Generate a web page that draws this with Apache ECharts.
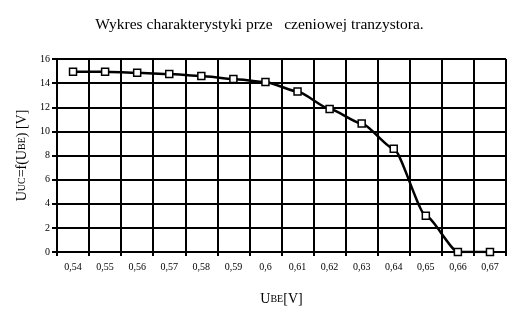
<!DOCTYPE html>
<html><head><meta charset="utf-8">
<script src="https://cdn.jsdelivr.net/npm/echarts@6/dist/echarts.min.js"></script>
<style>html,body{margin:0;padding:0;background:#fff}#c{width:519px;height:321px}</style>
</head><body><div id="c"></div>
<script>
const categories = ['0,54','0,55','0,56','0,57','0,58','0,59','0,6','0,61','0,62','0,63','0,64','0,65','0,66','0,67'];
const uuc = [14.95,14.95,14.85,14.75,14.6,14.35,14.1,13.3,11.85,10.65,8.55,3.0,0,0];
const yTicks = {min:0, max:16, interval:2};
const titleText = 'Wykres charakterystyki prze   czeniowej tranzystora.';
const F = 'Liberation Serif';
const chart = echarts.init(document.getElementById('c'), null, {renderer:'canvas'});
chart.setOption({
  animation:false,
  backgroundColor:'#fff',
  title:{text:titleText, left:'center', top:12, textStyle:{fontFamily:F, fontSize:15.5, fontWeight:'normal', color:'#000'}},
  grid:{left:57, right:13, top:59, bottom:69},
  xAxis:{type:'category', data:categories, boundaryGap:true,
    axisLine:{lineStyle:{color:'#000', width:2}},
    axisTick:{show:true, length:4, lineStyle:{color:'#000', width:2}},
    axisLabel:{fontFamily:F, fontSize:10, color:'#000', margin:10},
    splitLine:{show:true, lineStyle:{color:'#000', width:2}},
    name:'{a|U}{b|BE}{a|[V]}', nameLocation:'middle', nameGap:40,
    nameTextStyle:{rich:{a:{fontFamily:F, fontSize:14, color:'#000'}, b:{fontFamily:F, fontSize:10, color:'#000'}}}
  },
  yAxis:{type:'value', min:yTicks.min, max:yTicks.max, interval:yTicks.interval,
    axisLine:{show:true, lineStyle:{color:'#000', width:2}},
    axisTick:{show:true, length:5, lineStyle:{color:'#000', width:2}},
    axisLabel:{fontFamily:F, fontSize:10, color:'#000', margin:7},
    splitLine:{show:true, lineStyle:{color:'#000', width:2}},
    name:'{a|U}{b|UC}{a|=f(U}{b|BE}{a|) [V]}', nameLocation:'middle', nameGap:25,
    nameTextStyle:{rich:{a:{fontFamily:F, fontSize:14, color:'#000'}, b:{fontFamily:F, fontSize:10, color:'#000'}}}
  },
  series:[{type:'line', data:uuc, smooth:0.2, smoothMonotone:'x', symbol:'rect', symbolSize:7,
    lineStyle:{color:'#000', width:2.5},
    itemStyle:{color:'#fff', borderColor:'#000', borderWidth:1.5}}]
});
</script></body></html>
